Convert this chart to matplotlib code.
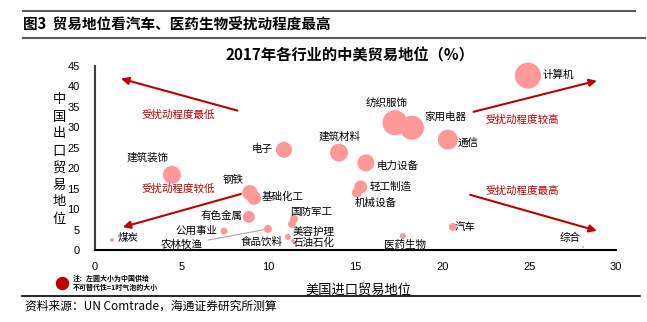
import matplotlib
matplotlib.use("Agg")
import matplotlib.pyplot as plt
from matplotlib.lines import Line2D

plt.rcParams['font.family'] = ['Liberation Sans', 'Noto Sans CJK SC']
CJK = ['Noto Sans CJK SC', 'Liberation Sans']

# ---- data ----
industries = ['计算机', '纺织服饰', '家用电器', '通信', '建筑材料', '电力设备', '轻工制造',
              '机械设备', '电子', '建筑装饰', '钢铁', '基础化工', '有色金属', '公用事业',
              '农林牧渔', '国防军工', '美容护理', '食品饮料', '石油石化', '煤炭', '汽车',
              '医药生物', '综合']
us_import = [24.93, 17.27, 18.25, 20.32, 14.05, 15.6, 15.3, 15.08, 10.88, 4.43, 8.92,
             9.15, 8.86, 7.43, 9.96, 11.46, 11.34, 11.11, 11.4, 0.98, 20.6, 17.73, 28.1]
cn_export = [42.65, 31.13, 29.9, 27.0, 23.8, 21.3, 15.4, 14.0, 24.5, 18.4, 14.0, 12.75,
             8.1, 4.65, 5.15, 7.6, 6.4, 3.2, 2.2, 2.45, 5.64, 3.43, 0.74]
supply = [5.2, 4.8, 4.43, 3.08, 2.49, 2.22, 1.3, 0.77, 1.97, 2.49, 1.8, 1.5, 1.1, 0.38,
          0.49, 0.49, 0.49, 0.28, 0.12, 0.12, 0.49, 0.28, 0.03]
x_ticks = [0, 5, 10, 15, 20, 25, 30]
y_ticks = [0, 5, 10, 15, 20, 25, 30, 35, 40, 45]

# label layout: (dx px, dy px upward, ha)
label_pos = {
    '计算机': (15, 1, 'left'), '纺织服饰': (-8, 20, 'center'), '家用电器': (12, 11, 'left'),
    '通信': (10, -3, 'left'), '建筑材料': (1, 16, 'center'), '电力设备': (11, -3, 'left'),
    '轻工制造': (9, 0, 'left'), '机械设备': (-2, -10, 'left'), '电子': (-11, 1, 'right'),
    '建筑装饰': (-24, 17, 'center'), '钢铁': (-17, 13, 'center'), '基础化工': (8, 1, 'left'),
    '有色金属': (-6, 1, 'right'), '公用事业': (-7, 0, 'right'), '农林牧渔': (-65, -16, 'right'),
    '国防军工': (-4, 7, 'left'), '美容护理': (1, -8, 'left'), '食品饮料': (-5, -5, 'right'),
    '石油石化': (0, -2, 'left'), '煤炭': (6, 2, 'left'), '汽车': (2, 0, 'left'),
    '医药生物': (2, -9, 'center'), '综合': (-13, 9, 'center'),
}

W, H = 647, 322
fig = plt.figure(figsize=(W / 100, H / 100), dpi=100)
ax = fig.add_axes([95 / W, 1 - 250 / H, (616 - 95) / W, (250 - 66) / H])

PX = 0.72  # points per pixel
size_scale = (1.44 * 5.7) ** 2  # s for supply = 1

ax.scatter(us_import, cn_export, s=[v * size_scale for v in supply],
           color='#FF9999', edgecolors='none', zorder=3, clip_on=False)

for name, x, y in zip(industries, us_import, cn_export):
    dx, dy, ha = label_pos[name]
    kw = {}
    if name == '农林牧渔':
        kw['arrowprops'] = dict(arrowstyle='-', color='#A6A6A6', lw=0.8,
                                shrinkA=2, shrinkB=3)
    ax.annotate(name, (x, y), xytext=(dx * PX, dy * PX), textcoords='offset points',
                ha=ha, va='center', fontsize=7.6, family=CJK, zorder=4, **kw)

ax.set_xlim(0, 30)
ax.set_ylim(0, 45)
ax.set_xticks(x_ticks)
ax.set_yticks(y_ticks)
ax.set_xticklabels([str(v) for v in x_ticks], fontsize=8)
ax.set_yticklabels([str(v) for v in y_ticks], fontsize=8)
ax.tick_params(axis='both', length=0)
ax.tick_params(axis='x', pad=9)
ax.tick_params(axis='y', pad=11)
for s in ['top', 'right']:
    ax.spines[s].set_visible(False)
ax.spines['left'].set_color('#404040')
ax.spines['left'].set_linewidth(1.5)
ax.spines['bottom'].set_color('#000000')
ax.spines['bottom'].set_linewidth(1.5)

# arrows and region notes
red = '#C00000'
arrows = [((8.2, 34.1), (1.5, 41.9)), ((21.8, 33.8), (28.9, 41.4)),
          ((8.4, 13.7), (1.6, 5.6)), ((21.6, 13.5), (28.9, 4.7))]
for start, end in arrows:
    ax.annotate('', xy=end, xytext=start,
                arrowprops=dict(arrowstyle='-|>', color=red, lw=1.5,
                                mutation_scale=11, shrinkA=0, shrinkB=0))
notes = [('受扰动程度最低', 4.8, 33.0), ('受扰动程度较高', 24.6, 31.9),
         ('受扰动程度较低', 4.8, 15.0), ('受扰动程度最高', 24.6, 14.5)]
for t, x, y in notes:
    ax.text(x, y, t, color=red, fontsize=7.6, ha='center', va='center', family=CJK)

# header
fig.add_artist(Line2D([23 / W, 635 / W], [1 - 11 / H] * 2, color='#595959', lw=1.5))
fig.add_artist(Line2D([23 / W, 645 / W], [1 - 38 / H] * 2, color='#595959', lw=1.5))
fig.text(23 / W, 1 - 25 / H, '图3  贸易地位看汽车、医药生物受扰动程度最高', fontsize=10.5,
         fontweight='bold', va='center', ha='left', family=CJK)
fig.text(350 / W, 1 - 55 / H, '2017年各行业的中美贸易地位（%）', fontsize=11,
         fontweight='bold', va='center', ha='center', family=CJK)

# axis labels
ylab = '中国出口贸易地位'
for i, ch in enumerate(ylab):
    fig.text(59 / W, 1 - (100 + i * 17) / H, ch, fontsize=9.5, ha='center', va='center',
             family=CJK)
fig.text(358 / W, 1 - 290 / H, '美国进口贸易地位', fontsize=9.5, ha='center', va='center',
         family=CJK)

# size legend
fig.add_artist(Line2D([62 / W], [1 - 283 / H], marker='o', markersize=12 * PX,
                      color=red, markeredgecolor=red, linestyle='none'))
fig.text(73 / W, 1 - 278 / H, '注：左圆大小为中国供给', fontsize=5, fontweight='bold',
         va='center', ha='left', family=CJK)
fig.text(73 / W, 1 - 287 / H, '不可替代性=1时气泡的大小', fontsize=5, fontweight='bold',
         va='center', ha='left', family=CJK)

# footer
fig.add_artist(Line2D([22 / W, 640 / W], [1 - 296 / H] * 2, color='#000000', lw=1.2))
fig.text(25 / W, 1 - 306 / H, '资料来源：UN Comtrade，海通证券研究所测算', fontsize=8.5,
         va='center', ha='left', family=CJK)

fig.savefig('out.png', dpi=100)
